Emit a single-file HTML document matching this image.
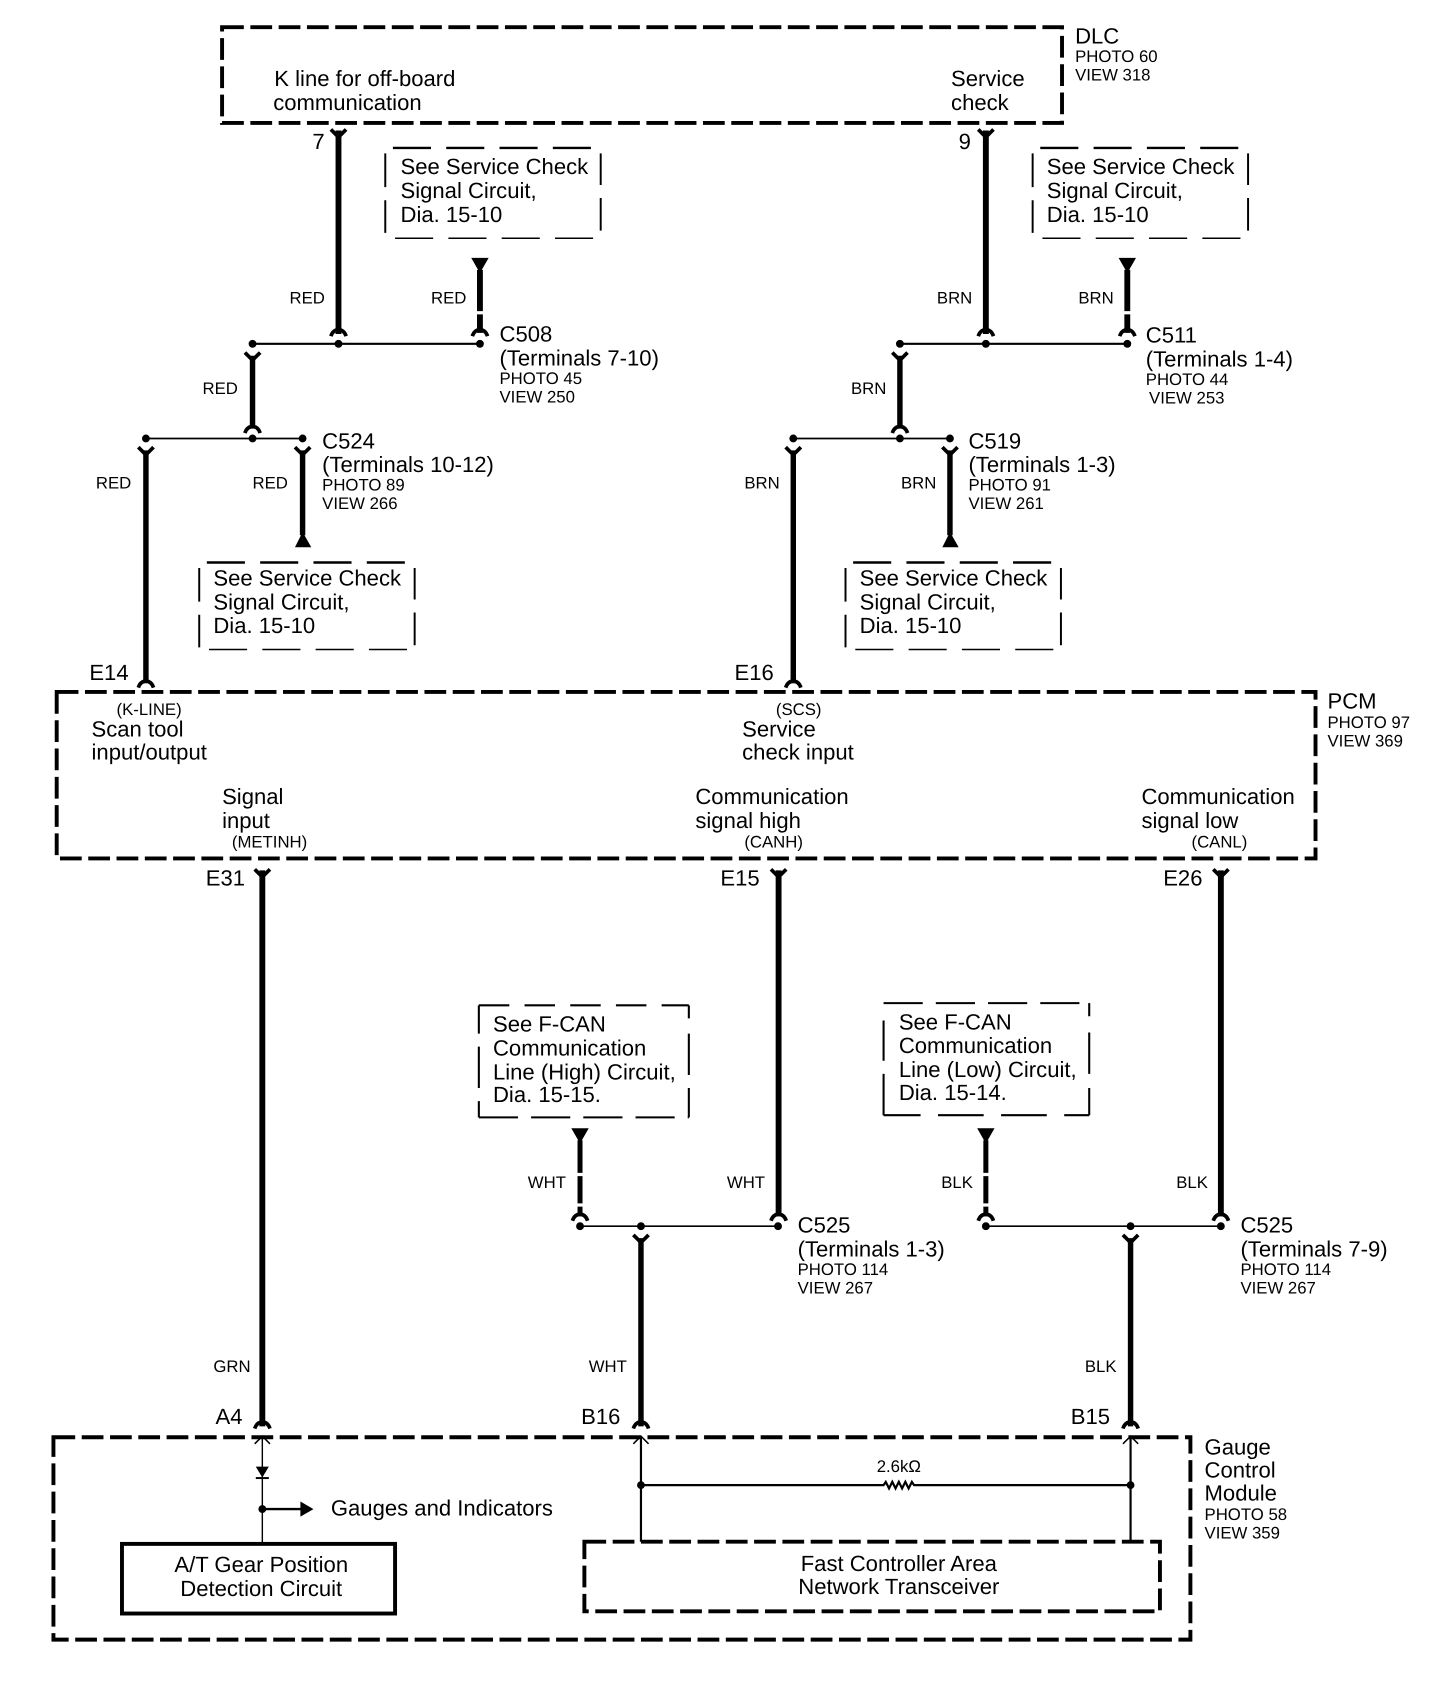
<!DOCTYPE html>
<html><head><meta charset="utf-8"><style>
html,body{margin:0;padding:0;background:#fff}
svg{display:block}
text{font-family:"Liberation Sans",sans-serif;font-size:20.3px;fill:#000}
.s{font-size:15.4px}
.c{text-anchor:middle}
</style></head><body>
<svg xmlns="http://www.w3.org/2000/svg" width="1456" height="1706" viewBox="0 0 1338 1568" text-rendering="geometricPrecision">
<defs>
<g id="top"><path d="M-7,-5 L0,2 L7,-5" fill="none" stroke="#000" stroke-width="3.4"/></g>
<g id="arch"><path d="M-7,4 Q-5,-2 0,-2 Q5,-2 7,4" fill="none" stroke="#000" stroke-width="3.4"/></g>
<g id="refsides" fill="none" stroke="#000">
<path d="M361,136H552" stroke-width="2.2" stroke-dasharray="35 14"/>
<path d="M354,141V172M354,184V214M552,141V170M552,182V212" stroke-width="1.8"/>
</g>
<g id="wires" stroke="#000" fill="none">
<path d="M311,120V307" stroke-width="5.4"/>
<use href="#top" x="311" y="124"/><use href="#arch" x="311" y="305"/>
<path d="M441,248V286M441,289V306" stroke-width="5.4"/>
<path d="M433,237H449L441,251Z" fill="#000" stroke="none"/>
<use href="#arch" x="441" y="305"/>
<path d="M232,316H441" stroke-width="2"/>
<circle cx="232" cy="316" r="3.6" fill="#000" stroke="none"/><circle cx="311" cy="316" r="3.6" fill="#000" stroke="none"/><circle cx="441" cy="316" r="3.6" fill="#000" stroke="none"/>
<path d="M232,327V394" stroke-width="5"/>
<use href="#top" x="232" y="329"/><use href="#arch" x="232" y="394"/>
<path d="M134,403H278" stroke-width="1.6"/>
<circle cx="134" cy="403" r="3.6" fill="#000" stroke="none"/><circle cx="232" cy="403" r="3.6" fill="#000" stroke="none"/><circle cx="278" cy="403" r="3.6" fill="#000" stroke="none"/>
<path d="M134,414V628" stroke-width="5"/>
<use href="#top" x="134" y="416"/><use href="#arch" x="134" y="628"/>
<path d="M278,414V492" stroke-width="5"/>
<use href="#top" x="278" y="416"/>
<path d="M278,489L286,503H271Z" fill="#000" stroke="none"/>
</g>
</defs>

<!-- DLC -->
<rect x="204" y="25" width="772" height="88" fill="none" stroke="#000" stroke-width="3.6" stroke-dasharray="20 6"/>
<text x="988" y="40">DLC</text><text class="s" x="988" y="57">PHOTO 60</text><text class="s" x="988" y="74">VIEW 318</text>
<text x="252" y="79">K line for off-board</text><text x="251" y="101">communication</text>
<text x="874" y="79">Service</text><text x="874" y="101">check</text>
<text x="287" y="137">7</text><text x="881" y="137">9</text>

<use href="#wires"/>
<use href="#wires" x="595"/>

<use href="#refsides"/>
<use href="#refsides" x="595"/>
<use href="#refsides" x="-171" y="381"/>
<use href="#refsides" x="423" y="381"/>
<g fill="none" stroke="#000" stroke-width="1.4" stroke-dasharray="35 14">
<path d="M363,219H552"/><path d="M958,219H1147"/><path d="M192,597H381"/><path d="M786,597H975"/>
</g>

<text x="368" y="160">See Service Check</text><text x="368" y="182">Signal Circuit,</text><text x="368" y="204">Dia. 15-10</text>
<text x="962" y="160">See Service Check</text><text x="962" y="182">Signal Circuit,</text><text x="962" y="204">Dia. 15-10</text>
<text x="196" y="538">See Service Check</text><text x="196" y="560">Signal Circuit,</text><text x="196" y="582">Dia. 15-10</text>
<text x="790" y="538">See Service Check</text><text x="790" y="560">Signal Circuit,</text><text x="790" y="582">Dia. 15-10</text>

<text class="s" x="266" y="279">RED</text><text class="s" x="396" y="279">RED</text><text class="s" x="186" y="362">RED</text><text class="s" x="88" y="449">RED</text><text class="s" x="232" y="449">RED</text>
<text class="s" x="861" y="279">BRN</text><text class="s" x="991" y="279">BRN</text><text class="s" x="782" y="362">BRN</text><text class="s" x="684" y="449">BRN</text><text class="s" x="828" y="449">BRN</text>

<text x="459" y="314">C508</text><text x="459" y="336">(Terminals 7-10)</text><text class="s" x="459" y="353">PHOTO 45</text><text class="s" x="459" y="370">VIEW 250</text>
<text x="296" y="412">C524</text><text x="296" y="434">(Terminals 10-12)</text><text class="s" x="296" y="451">PHOTO 89</text><text class="s" x="296" y="468">VIEW 266</text>
<text x="1053" y="315">C511</text><text x="1053" y="337">(Terminals 1-4)</text><text class="s" x="1053" y="354">PHOTO 44</text><text class="s" x="1056" y="371">VIEW 253</text>
<text x="890" y="412">C519</text><text x="890" y="434">(Terminals 1-3)</text><text class="s" x="890" y="451">PHOTO 91</text><text class="s" x="890" y="468">VIEW 261</text>

<!-- PCM -->
<rect x="52" y="636" width="1157" height="153" fill="none" stroke="#000" stroke-width="3.6" stroke-dasharray="20 6"/>
<text x="82" y="625">E14</text><text x="675" y="625">E16</text>
<text class="s" x="107" y="657">(K-LINE)</text><text x="84" y="677">Scan tool</text><text x="84" y="698">input/output</text>
<text class="s" x="713" y="657">(SCS)</text><text x="682" y="677">Service</text><text x="682" y="698">check input</text>
<text x="1220" y="651">PCM</text><text class="s" x="1220" y="669">PHOTO 97</text><text class="s" x="1220" y="686">VIEW 369</text>
<text x="204" y="739">Signal</text><text x="204" y="761">input</text><text class="s" x="213" y="779">(METINH)</text>
<text x="639" y="739">Communication</text><text x="639" y="761">signal high</text><text class="s" x="684" y="779">(CANH)</text>
<text x="1049" y="739">Communication</text><text x="1049" y="761">signal low</text><text class="s" x="1095" y="779">(CANL)</text>
<text x="189" y="814">E31</text><text x="662" y="814">E15</text><text x="1069" y="814">E26</text>

<!-- lower wires -->
<g stroke="#000" fill="none">
<path d="M241,800V1311" stroke-width="5.4"/><use href="#top" x="241" y="804"/><use href="#arch" x="241" y="1309"/>
<path d="M715.500,800V1118" stroke-width="5.4"/><use href="#top" x="715.500" y="804"/><use href="#arch" x="715.500" y="1118"/>
<path d="M1122,800V1118" stroke-width="5.4"/><use href="#top" x="1122" y="804"/><use href="#arch" x="1122" y="1118"/>
<path d="M533,1048V1078M533,1081V1106M533,1109V1118" stroke-width="4.6"/><path d="M525,1037H541L533,1051Z" fill="#000" stroke="none"/><use href="#arch" x="533" y="1118"/>
<path d="M906,1048V1078M906,1081V1106M906,1109V1118" stroke-width="4.6"/><path d="M898,1037H914L906,1051Z" fill="#000" stroke="none"/><use href="#arch" x="906" y="1118"/>
<path d="M533,1127H715M906,1127H1122" stroke-width="1.6"/>
<path d="M589,1138V1311" stroke-width="5"/><use href="#top" x="589" y="1140"/><use href="#arch" x="589" y="1309"/>
<path d="M1039,1138V1311" stroke-width="5"/><use href="#top" x="1039" y="1140"/><use href="#arch" x="1039" y="1309"/>
</g>
<g fill="#000"><circle cx="533" cy="1127" r="3.6"/><circle cx="589" cy="1127" r="3.6"/><circle cx="715" cy="1127" r="3.6"/><circle cx="906" cy="1127" r="3.6"/><circle cx="1039" cy="1127" r="3.6"/><circle cx="1122" cy="1127" r="3.6"/></g>

<!-- F-CAN ref boxes -->
<g fill="none" stroke="#000" stroke-width="1.9">
<path d="M440,924H633" stroke-dasharray="28 14"/><path d="M440,1027H633" stroke-dasharray="36 12"/>
<path d="M440,924V950M440,962V1000M440,1012V1027M633,924V936M633,950V988M633,1000V1027"/>
<path d="M812,922H1001" stroke-dasharray="36 12"/><path d="M812,1025H1001" stroke-dasharray="42 16" stroke-dashoffset="8"/>
<path d="M812,938V975M812,987V1025M1001,922V934M1001,949V987M1001,1000V1025"/>
</g>
<text x="453" y="948">See F-CAN</text><text x="453" y="970">Communication</text><text x="453" y="992">Line (High) Circuit,</text><text x="453" y="1013">Dia. 15-15.</text>
<text x="826" y="946">See F-CAN</text><text x="826" y="968">Communication</text><text x="826" y="990">Line (Low) Circuit,</text><text x="826" y="1011">Dia. 15-14.</text>

<text class="s" x="485" y="1092">WHT</text><text class="s" x="668" y="1092">WHT</text><text class="s" x="865" y="1092">BLK</text><text class="s" x="1081" y="1092">BLK</text>
<text x="733" y="1133">C525</text><text x="733" y="1155">(Terminals 1-3)</text><text class="s" x="733" y="1172">PHOTO 114</text><text class="s" x="733" y="1189">VIEW 267</text>
<text x="1140" y="1133">C525</text><text x="1140" y="1155">(Terminals 7-9)</text><text class="s" x="1140" y="1172">PHOTO 114</text><text class="s" x="1140" y="1189">VIEW 267</text>
<text class="s" x="196" y="1261">GRN</text><text class="s" x="541" y="1261">WHT</text><text class="s" x="997" y="1261">BLK</text>
<text x="198" y="1309">A4</text><text x="534" y="1309">B16</text><text x="984" y="1309">B15</text>

<!-- Gauge Control Module -->
<rect x="49" y="1321" width="1045" height="186" fill="none" stroke="#000" stroke-width="3.6" stroke-dasharray="20 6"/>
<text x="1107" y="1337">Gauge</text><text x="1107" y="1358">Control</text><text x="1107" y="1379">Module</text><text class="s" x="1107" y="1397">PHOTO 58</text><text class="s" x="1107" y="1414">VIEW 359</text>

<g fill="none" stroke="#000">
<path d="M241,1321V1419" stroke-width="1.3"/>
<path d="M234,1327L241,1320L248,1327" stroke-width="1.4"/>
<path d="M235,1358.500H247" stroke-width="1.8"/>
<path d="M280,1387H241" stroke-width="2.2"/>
<rect x="112" y="1419" width="251" height="64" stroke-width="3.6"/>
<rect x="537" y="1417" width="529" height="64" stroke-width="3.6" stroke-dasharray="20 6"/>
<path d="M589,1321V1417M1039,1321V1417" stroke-width="2"/>
<path d="M582,1327L589,1320L596,1327M1032,1327L1039,1320L1046,1327" stroke-width="1.4"/>
<path d="M589,1365H812L814,1362L817,1368L820,1362L823,1368L826,1362L829,1368L832,1362L835,1368L838,1362L840,1365H1039" stroke-width="2"/>
</g>
<g fill="#000">
<path d="M235,1348H247L241,1358Z"/>
<circle cx="241" cy="1387" r="3.6"/>
<path d="M276,1380L288,1387L276,1394Z"/>
<circle cx="589" cy="1365" r="3.6"/><circle cx="1039" cy="1365" r="3.6"/>
</g>
<text class="s c" x="826" y="1353">2.6kΩ</text>
<text x="304" y="1393">Gauges and Indicators</text>
<text class="c" x="240" y="1445">A/T Gear Position</text><text class="c" x="240" y="1467">Detection Circuit</text>
<text class="c" x="826" y="1444">Fast Controller Area</text><text class="c" x="826" y="1465">Network Transceiver</text>
</svg>
</body></html>
